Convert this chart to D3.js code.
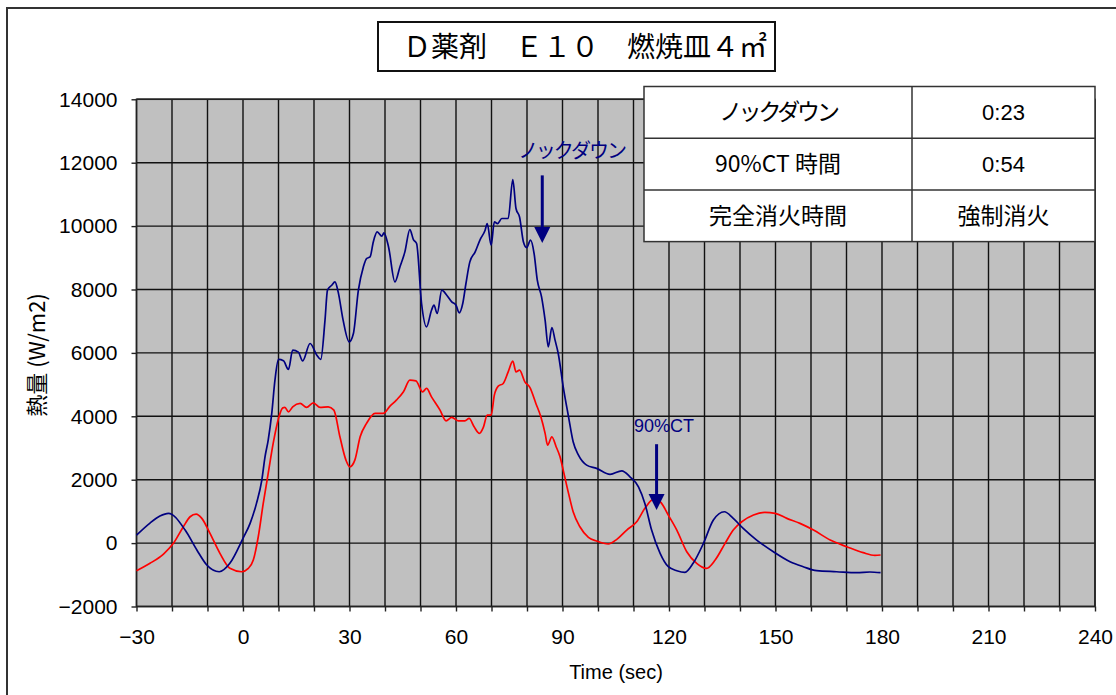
<!DOCTYPE html>
<html><head><meta charset="utf-8">
<script src="https://cdn.jsdelivr.net/npm/d3@7"></script>
<style>
html,body{margin:0;padding:0;background:#fff;}
svg{display:block;}
</style></head>
<body>
<svg id="chart" width="1116" height="695"></svg>
<script>
// ---- data ----
const chartTitle = "Ｄ薬剤　Ｅ１０　燃焼皿４㎡";
const xTicks = [-30, 0, 30, 60, 90, 120, 150, 180, 210, 240];
const yTicks = [-2000, 0, 2000, 4000, 6000, 8000, 10000, 12000, 14000];
const xGrid = d3.range(-30, 241, 10);

const timeNavy = [-30,-26.2,-23.4,-21,-16.3,-13,-10.2,-6.7,-3.7,0,2,3.8,5.3,6.2,7.1,8.1,9,10,11.4,12.8,14,15.6,16.8,18.9,20.8,21.9,23.1,23.8,25,25.9,26.8,28.2,29.9,31.1,32.5,33.9,34.8,35.8,36.7,37.8,39.1,39.7,41,42.8,44.2,45.6,47,48,48.9,50.3,51.7,53.1,53.8,54.7,56,57.4,58.8,60,60.9,61.9,62.8,63.9,65.4,66.8,68.2,68.8,69.9,70.8,71.7,72.9,74.7,76,76.9,77.9,79,79.9,81,82,82.9,84.1,85.1,86,87,87.9,88.8,90.2,91.7,93,94.5,96.8,99.6,103.4,106.7,109,111.4,113.2,115.1,117.5,119.8,122.2,124.5,126.8,129.7,132.5,135.6,138.1,140.9,144.7,149.4,154.1,157.8,161.6,167.2,172.9,176.6,179.6];
const heatNavy = [250,632,853,940,412,-218,-692,-903,-638,150,623,1253,1988,2723,3250,4090,5140,5793,5750,5478,6086,6023,5750,6297,5929,5793,7032,7978,8135,8240,7925,7032,6348,6613,7978,8713,8977,9028,9501,9816,9680,9784,9343,8240,8713,9186,9891,9576,9450,7559,6821,7347,7505,7243,7978,7820,7610,7505,7263,7559,8189,8871,9186,9576,9870,10080,9397,10131,10080,10239,10239,11468,10554,10289,9501,9324,9555,9135,8293,7767,7032,6190,6802,6402,5982,4930,3984,3196,2776,2461,2357,2167,2281,2092,1777,1253,412,-323,-745,-871,-921,-638,-8,727,989,781,465,96,-273,-588,-745,-871,-903,-934,-912,-934];

const timeRed = [-30,-26.2,-22.4,-19.6,-16.8,-14.9,-13.2,-11.6,-9.3,-6.5,-3.7,-0.4,1.5,2.9,4.3,5.7,7.1,8.5,10,11.2,11.8,12.8,14,16.1,17.9,19.8,21.7,24,25.6,27.3,29,30.1,31.5,33,34.8,37.2,39.5,41.4,43.2,45.2,47,48.7,50.6,51.7,53.1,55.5,57.2,58.8,60.7,62.5,63.7,65.1,66.6,67.7,68.8,69.9,70.8,71.9,73.3,74.7,76,76.9,77.9,79.4,80.8,82.5,83.9,85.1,85.8,87,88.2,89.3,90.2,91.7,93,94.9,97.3,99.6,102.9,105.3,108.1,110.9,113.2,115.6,117.5,119.8,122.2,125,127.8,130.6,133,135.8,138.1,140.5,143.8,147,149.9,153.2,156.9,160.7,165.4,170.1,174.7,178,179.6];
const heatRed = [-871,-638,-345,-8,516,831,916,781,308,-323,-796,-903,-796,-534,200,1253,2199,3145,3933,4267,4280,4141,4299,4406,4280,4425,4280,4299,4195,3353,2618,2407,2618,3353,3775,4090,4090,4321,4510,4772,5140,5119,4772,4879,4614,4195,3858,3964,3858,3858,3933,3668,3460,3649,4037,4037,4668,4952,5036,5402,5739,5402,5456,5087,4911,4406,3984,3460,3091,3353,3041,2723,2303,1569,989,516,182,66,-29,119,412,673,1096,1380,1304,884,412,-273,-638,-796,-534,-8,412,673,884,970,938,781,623,412,96,-114,-302,-386,-376];

const tableRows = [["ノックダウン","0:23"],["90%CT 時間","0:54"],["完全消火時間","強制消火"]];

// annotations: label, text x (time), text y (value), arrow x (time), arrow top, arrow tip
const annoLabels = ["ノックダウン", "90%CT"];
const annoTextT = [77.5, 118.6];
const annoTextV = [12150, 3500];
const annoArrowT = [84.3, 116.5];
const annoArrowTop = [11600, 3120];
const annoArrowTip = [9470, 1045];

// ---- drawing ----
const svg = d3.select("#chart");
const NAVY = "#000080", RED = "#ff0000";
const latin = "'Liberation Sans', Arial, sans-serif";
const cjk = "'Noto Sans CJK JP', sans-serif";

const L = 136.5, R = 1095, T = 99.3, B = 606.5;
const x = d3.scaleLinear().domain([-30, 240]).range([L, R]);
const y = d3.scaleLinear().domain([-2000, 14000]).range([B, T]);

// outer frame
svg.append("rect").attr("x", 7).attr("y", 8).attr("width", 1300).attr("height", 900)
  .attr("fill", "none").attr("stroke", "#333").attr("stroke-width", 2);

// plot background
svg.append("rect").attr("x", L).attr("y", T).attr("width", R - L).attr("height", B - T)
  .attr("fill", "#c0c0c0");

// grid
const g = svg.append("g");
g.selectAll(".vg").data(xGrid).enter().append("line")
  .attr("x1", d => x(d)).attr("x2", d => x(d)).attr("y1", T).attr("y2", B)
  .attr("stroke", "#111").attr("stroke-width", 1.4);
g.selectAll(".hg").data(yTicks).enter().append("line")
  .attr("x1", L).attr("x2", R).attr("y1", d => y(d)).attr("y2", d => y(d))
  .attr("stroke", "#111").attr("stroke-width", 1.4);

// plot border
svg.append("rect").attr("x", L).attr("y", T).attr("width", R - L).attr("height", B - T)
  .attr("fill", "none").attr("stroke", "#222").attr("stroke-width", 1.5);

// axes
const xAxis = d3.axisBottom(x).tickValues(xGrid).tickSize(5).tickFormat(d => xTicks.includes(d) ? (d < 0 ? "−" + Math.abs(d) : d) : "");
const xa = svg.append("g").attr("transform", `translate(0,${B})`).call(xAxis);
xa.select(".domain").remove();
xa.selectAll("line").attr("stroke", "#222").attr("stroke-width", 1.4);
xa.selectAll("text").attr("font-family", latin).attr("font-size", 21).attr("fill", "#000").attr("y", 16).attr("dy", "1.0em");

const yAxis = d3.axisLeft(y).tickValues(yTicks).tickSize(5).tickPadding(14).tickFormat(d => d < 0 ? "−" + Math.abs(d) : d);
const ya = svg.append("g").attr("transform", `translate(${L},0)`).call(yAxis);
ya.select(".domain").remove();
ya.selectAll("line").attr("stroke", "#222").attr("stroke-width", 1.4);
ya.selectAll("text").attr("font-family", latin).attr("font-size", 21).attr("fill", "#000");

// axis titles
svg.append("text").attr("x", 616).attr("y", 679).attr("text-anchor", "middle")
  .attr("font-family", latin).attr("font-size", 20).text("Time (sec)");
svg.append("text").attr("transform", "translate(45,355) rotate(-90)").attr("text-anchor", "middle")
  .attr("font-family", cjk).attr("font-size", 22).text("熱量 (W/m2)");

// lines
const line = d3.line().x(d => x(d[0])).y(d => y(d[1])).curve(d3.curveMonotoneX);
const navyPts = timeNavy.map((t, i) => [t, heatNavy[i]]);
const redPts = timeRed.map((t, i) => [t, heatRed[i]]);
svg.append("path").datum(redPts).attr("d", line).attr("fill", "none").attr("stroke", RED).attr("stroke-width", 1.7);
svg.append("path").datum(navyPts).attr("d", line).attr("fill", "none").attr("stroke", NAVY).attr("stroke-width", 1.7);

// annotations
annoLabels.forEach((lab, i) => {
  svg.append("text").attr("x", x(annoTextT[i])).attr("y", y(annoTextV[i]))
    .attr("text-anchor", i === 0 ? "start" : "middle")
    .attr("font-family", i === 0 ? cjk : latin).attr("font-size", i === 0 ? 20 : 18)
    .attr("letter-spacing", i === 0 ? -2 : 0).attr("fill", NAVY).text(lab);
  const ax = x(annoArrowT[i]), yt = y(annoArrowTop[i]), yp = y(annoArrowTip[i]);
  svg.append("line").attr("x1", ax).attr("x2", ax).attr("y1", yt).attr("y2", yp - 12)
    .attr("stroke", NAVY).attr("stroke-width", 3);
  svg.append("path").attr("d", `M${ax - 8},${yp - 16} L${ax + 8},${yp - 16} L${ax},${yp} Z`).attr("fill", NAVY);
});

// table
const tX = 644, tW = 451, tY = 86.5, rowH = 51.7, col1 = 912;
const tg = svg.append("g");
tg.append("rect").attr("x", tX).attr("y", tY).attr("width", tW).attr("height", rowH * 3)
  .attr("fill", "#fff").attr("stroke", "#333").attr("stroke-width", 1.5);
tg.append("line").attr("x1", col1).attr("x2", col1).attr("y1", tY).attr("y2", tY + rowH * 3)
  .attr("stroke", "#333").attr("stroke-width", 1.5);
tableRows.forEach((r, i) => {
  if (i > 0) tg.append("line").attr("x1", tX).attr("x2", tX + tW).attr("y1", tY + rowH * i).attr("y2", tY + rowH * i)
    .attr("stroke", "#333").attr("stroke-width", 1.5);
  const cy = tY + rowH * i + rowH / 2 + 8;
  const isKana = /^[\u30A0-\u30FF]+$/.test(r[0]);
  tg.append("text").attr("x", (tX + col1) / 2).attr("y", cy).attr("text-anchor", "middle")
    .attr("font-family", cjk).attr("font-size", 23)
    .attr("letter-spacing", isKana ? -3.2 : 0).text(r[0]);
  const isNum = /^[0-9:]+$/.test(r[1]);
  tg.append("text").attr("x", (col1 + tX + tW) / 2).attr("y", cy).attr("text-anchor", "middle")
    .attr("font-family", isNum ? latin : cjk).attr("font-size", isNum ? 22 : 23).text(r[1]);
});

// title box
svg.append("rect").attr("x", 378).attr("y", 22).attr("width", 397).attr("height", 49)
  .attr("fill", "#fff").attr("stroke", "#111").attr("stroke-width", 2);
svg.append("text").attr("x", 585).attr("y", 57).attr("text-anchor", "middle")
  .attr("font-family", cjk).attr("font-size", 28).text(chartTitle);
</script>
</body></html>
